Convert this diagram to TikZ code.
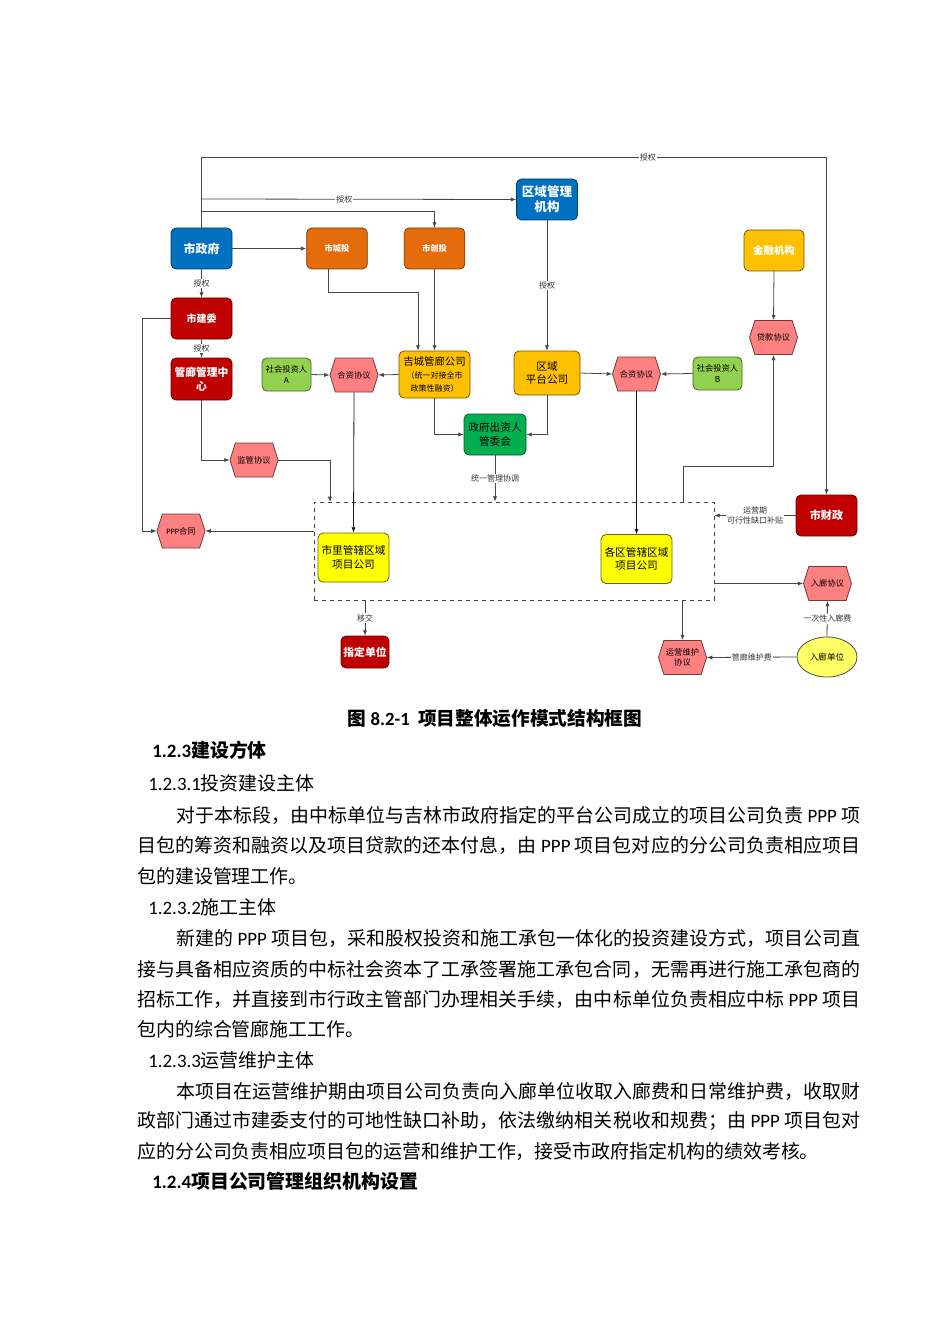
\documentclass[tikz,border=0pt]{standalone}
\usepackage{fontspec}
\setmainfont{Noto Sans CJK SC}
\newfontfamily\latn{Carlito}
\usetikzlibrary{shapes.symbols,shapes.geometric,arrows.meta}
\setlength\parindent{0pt}
\definecolor{cblue}{HTML}{0070C0}
\definecolor{corange}{HTML}{E46C0A}
\definecolor{cred}{HTML}{C00000}
\definecolor{cgold}{HTML}{FFC000}
\definecolor{clgreen}{HTML}{92D050}
\definecolor{cgreen}{HTML}{00B050}
\definecolor{cyellow}{HTML}{FFFF00}
\definecolor{cpale}{HTML}{FFFF66}
\definecolor{cpink}{HTML}{FF8080}
\makeatletter
\def\spreadend@mark{\spreadend@mark@}
\newcommand\spreadline[2]{\hbox to #1{\spreadfirst@#2\spreadend@mark}}
\def\spreadfirst@#1{{#1}\spreadnext@}
\def\spreadnext@#1{\ifx\spreadend@mark#1\else\hskip0pt plus 1fil{#1}\expandafter\spreadnext@\fi}
\makeatother
\tikzset{
  box/.style={rounded corners=3.75pt, inner sep=0pt, align=center, line width=0.6pt},
  bluebox/.style={box, fill=cblue, draw=cblue!55!black, text=white, font=\bfseries\fontsize{9}{11}\selectfont, minimum width=45.75pt, minimum height=30.75pt},
  orangebox/.style={box, fill=corange, draw=corange!55!black, text=white, font=\bfseries\fontsize{6.2}{7.5}\selectfont, minimum width=45.5pt, minimum height=30.75pt},
  redbox/.style={box, fill=cred, draw=cred!55!black, text=white, font=\bfseries\fontsize{7.8}{9.8}\selectfont, minimum width=45.75pt, minimum height=30.75pt},
  goldbox/.style={box, fill=cgold, draw=cgold!45!black, text=black, font=\fontsize{8}{10}\selectfont},
  lgreenbox/.style={box, fill=clgreen, draw=clgreen!50!black, text=black, font=\fontsize{6.2}{8}\selectfont, minimum width=36.75pt, minimum height=24.75pt},
  greenbox/.style={box, fill=cgreen, draw=cgreen!50!black, text=black, font=\fontsize{8}{10}\selectfont, minimum width=46.5pt, minimum height=30.75pt},
  yellowbox/.style={box, fill=cyellow, draw=cyellow!40!black, text=black, font=\fontsize{8}{10}\selectfont, minimum width=53.25pt, minimum height=36.75pt},
  hexa/.style={signal, signal to=east and west, signal pointer angle=145, fill=cpink, draw=cpink!45!black, line width=0.6pt, inner sep=0pt, minimum width=36pt, minimum height=25.5pt, font=\fontsize{6.2}{7.6}\selectfont, align=center},
  oval/.style={ellipse, fill=cpale, draw=black!70, line width=0.6pt, inner sep=0pt, minimum width=45pt, minimum height=30pt, font=\fontsize{6.4}{8}\selectfont},
  conn/.style={draw=black!72, line width=0.6pt, -{Latex[length=4pt,width=3.2pt]}},
  lbl/.style={fill=white, inner sep=0.8pt, font=\fontsize{6}{7.2}\selectfont, text=black!80, align=center},
  dbx/.style={draw=black!75, dashed, line width=0.6pt, minimum width=300pt, minimum height=73.5pt, inner sep=0pt},
  body/.style={anchor=west, inner sep=0pt, font=\fontsize{14.2}{16}\selectfont},
}
\begin{document}
\begin{tikzpicture}[x=0.75pt,y=-0.75pt]
\useasboundingbox[fill=white] (0,0) rectangle (950,1344);
% dashed frame
\node[dbx] (dbox) at (514,551) {};
% nodes
\node[bluebox] (sz) at (201.5,248.5) {市政府};
\node[bluebox, font=\bfseries\fontsize{9.4}{11.2}\selectfont] (qy) at (547,199.5) {区域管理\\机构};
\node[orangebox] (cb) at (337,248.5) {市城投};
\node[orangebox] (ct) at (434.5,248.5) {市创投};
\node[redbox, font=\bfseries\fontsize{7.5}{9}\selectfont] (sj) at (201.5,318.5) {市建委};
\node[redbox, font=\bfseries\fontsize{8.1}{10.5}\selectfont, minimum height=31.5pt] (gl) at (201.5,379) {管廊管理中\\心};
\node[lgreenbox] (sa) at (286.5,374.5) {社会投资人\\A};
\node[hexa] (hl) at (354,375) {合资协议};
\node[goldbox, minimum width=53.25pt, minimum height=35.25pt] (jc) at (434.5,374.5) {{\fontsize{7.8}{9.6}\selectfont 吉城管廊公司}\\{\fontsize{6}{7.4}\selectfont （统一对接全市}\\{\fontsize{6}{7.4}\selectfont 政策性融资）}};
\node[goldbox, minimum width=49.5pt, minimum height=33pt] (pt) at (547,373) {区域\\平台公司};
\node[hexa] (hr) at (636.5,374) {合资协议};
\node[lgreenbox] (sb) at (717.5,373.5) {社会投资人\\B};
\node[goldbox, text=white, font=\bfseries\fontsize{7.8}{9.5}\selectfont, minimum width=45pt, minimum height=30.75pt] (jr) at (774,250.5) {金融机构};
\node[hexa] (dk) at (773.5,337.5) {贷款协议};
\node[greenbox] (gw) at (495,434.5) {政府出资人\\管委会};
\node[hexa] (jg) at (254,460) {监管协议};
\node[hexa] (ppp) at (181,531) {{\latn PPP}合同};
\node[yellowbox] (sl) at (353.5,557.5) {市里管辖区域\\项目公司};
\node[yellowbox] (gq) at (636.5,559) {各区管辖区域\\项目公司};
\node[redbox, font=\bfseries\fontsize{8.3}{10}\selectfont] (cz) at (826.5,515.5) {市财政};
\node[hexa] (rx) at (827.5,583.5) {入廊协议};
\node[hexa] (yw) at (682.5,657.5) {运营维护\\协议};
\node[oval] (rd) at (827,657) {入廊单位};
\node[redbox, font=\bfseries\fontsize{8.1}{10}\selectfont, minimum width=36pt, minimum height=24pt] (zd) at (365,652) {指定单位};
% helper coordinates
\coordinate (t1) at (201.5,157);
\coordinate (t2) at (826.5,157);
\coordinate (t3) at (201.5,199);
\coordinate (t4) at (201.5,211);
\coordinate (c1) at (328,269);
\coordinate (c2) at (328,292);
\coordinate (k1) at (142,318.5);
\coordinate (d1) at (330,502);
\coordinate (d5) at (683,502);
\coordinate (k2) at (773.5,466);
% connectors
\draw[conn] (sz.north) -- (t1) -- node[lbl, pos=0.714]{授权} (t2) -- (cz.north);
\draw[conn] (sz.north) -- (t3) -- node[lbl, pos=0.454]{授权} (qy.west);
\draw[conn] (sz.north) -- (t4) -| (ct.north);
\draw[conn] (sz.east) -- (cb.west);
\draw[conn] (sz.south) -- node[lbl]{授权} (sj.north);
\draw[conn] (sj.south) -- node[lbl]{授权} (gl.north);
\draw[conn] (c1) -- (c2) -| ([xshift=-12.375pt]jc.north);
\draw[conn] (ct.south) -- (jc.north);
\draw[conn] (qy.south) -- node[lbl]{授权} (pt.north);
\draw[conn] (jr.south) -- (dk.north);
\draw[conn] (jc.west) -- (hl.east);
\draw[conn] (sa.east) -- (hl.west);
\draw[conn] (pt.east) -- (hr.west);
\draw[conn] (sb.west) -- (hr.east);
\draw[conn] (jc.south) |- (gw.west);
\draw[conn] (pt.south) |- (gw.east);
\draw[conn] (gw.south) -- node[lbl]{统一管理协调} (dbox.north -| gw.south);
\draw[conn] (gl.south) |- (jg.west);
\draw[conn] (jg.east) -| (d1);
\draw[conn, draw=black!90] (hl.south) -- (sl.north);
\draw[conn] (sj.west) -- (k1) |- (ppp.west);
\draw[conn] (dbox.west |- ppp.east) -- (ppp.east);
\draw[conn, draw=black!90] (hr.south) -- (gq.north);
\draw[conn] (d5) |- (k2) -- (dk.south);
\draw[conn] (cz.west) -- node[lbl]{运营期\\可行性缺口补贴} (dbox.east |- cz.west);
\draw[conn] (dbox.east |- rx.west) -- (rx.west);
\draw[conn] (dbox.south -| yw.north) -- (yw.north);
\draw[conn] (rd.north) -- node[lbl]{一次性入廊费} (rx.south);
\draw[conn] (rd.west) -- node[lbl]{管廊维护费} (yw.east);
\draw[conn] (dbox.south -| zd.north) -- node[lbl]{移交} (zd.north);
% text below
\node[font=\bfseries\fontsize{14}{16}\selectfont] (cap) at (495,718) {图 {\latn 8.2-1} \ 项目整体运作模式结构框图};
\node[body, font=\bfseries\fontsize{14.2}{16}\selectfont] (h1) at (152,750) {{\latn 1.2.3}建设方体};
\node[body] (s1) at (148,783) {{\latn 1.2.3.1}投资建设主体};
\node[body] (p11) at (176,815) {\spreadline{513pt}{对于本标段，由中标单位与吉林市政府指定的平台公司成立的项目公司负责{\latn\ PPP\ }项}};
\node[body] (p12) at (137,845) {\spreadline{542.25pt}{目包的筹资和融资以及项目贷款的还本付息，由{\latn\ PPP\ }项目包对应的分公司负责相应项目}};
\node[body] (p13) at (137,876) {包的建设管理工作。};
\node[body] (s2) at (148,907) {{\latn 1.2.3.2}施工主体};
\node[body] (p21) at (176,938) {\spreadline{513pt}{新建的{\latn\ PPP\ }项目包，采和股权投资和施工承包一体化的投资建设方式，项目公司直}};
\node[body] (p22) at (137,969) {\spreadline{542.25pt}{接与具备相应资质的中标社会资本了工承签署施工承包合同，无需再进行施工承包商的}};
\node[body] (p23) at (137,999) {\spreadline{542.25pt}{招标工作，并直接到市行政主管部门办理相关手续，由中标单位负责相应中标{\latn\ PPP\ }项目}};
\node[body] (p24) at (137,1029) {包内的综合管廊施工工作。};
\node[body] (s3) at (148,1060) {{\latn 1.2.3.3}运营维护主体};
\node[body] (p31) at (176,1091) {\spreadline{513pt}{本项目在运营维护期由项目公司负责向入廊单位收取入廊费和日常维护费，收取财}};
\node[body] (p32) at (137,1121) {\spreadline{542.25pt}{政部门通过市建委支付的可地性缺口补助，依法缴纳相关税收和规费；由{\latn\ PPP\ }项目包对}};
\node[body] (p33) at (137,1151) {应的分公司负责相应项目包的运营和维护工作，接受市政府指定机构的绩效考核。};
\node[body, font=\bfseries\fontsize{14.2}{16}\selectfont] (h2) at (152,1181) {{\latn 1.2.4}项目公司管理组织机构设置};
\end{tikzpicture}
\end{document}
